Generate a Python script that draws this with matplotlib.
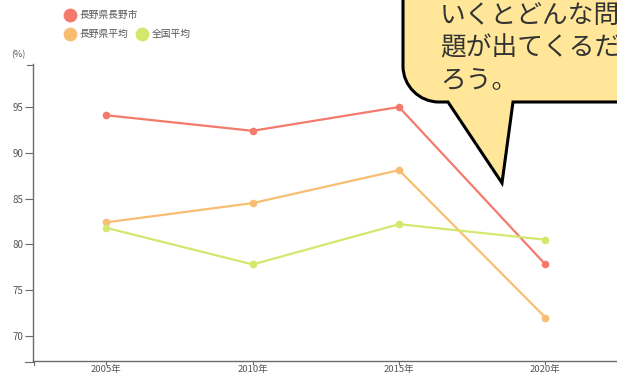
import matplotlib
matplotlib.use("Agg")
import matplotlib.pyplot as plt
from matplotlib.path import Path
from matplotlib.patches import PathPatch

plt.rcParams['font.family'] = ['Noto Sans CJK JP', 'DejaVu Sans']

years = ["2005年", "2010年", "2015年", "2020年"]
nagano_city = [94.1, 92.4, 95.0, 77.8]
nagano_pref = [82.4, 84.5, 88.1, 72.0]
national = [81.8, 77.8, 82.2, 80.5]
series_names = ["長野県長野市", "長野県平均", "全国平均"]
yticks = [70, 75, 80, 85, 90, 95]

colors = ["#F47B6B", "#F9BD72", "#D4E86E"]
axis_color = "#6b6b6b"
label_color = "#555555"

W, H = 617, 375
fig = plt.figure(figsize=(W / 100, H / 100), dpi=100)

# main plot area in pixel terms
x0, x1, ytop, ybot = 33, 617, 64, 361
ax = fig.add_axes([x0 / W, (H - ybot) / H, (x1 - x0) / W, (ybot - ytop) / H])
xs = list(range(len(years)))
for vals, c in zip([nagano_city, nagano_pref, national], colors):
    ax.plot(xs, vals, color=c, lw=1.6, marker="o", ms=4.5, mec=c, mfc=c, zorder=3)

ax.set_xlim(-0.5, -0.5 + (x1 - x0) / 146.4)
ax.set_ylim(67.25, 99.7)
ax.set_xticks(xs)
ax.set_xticklabels(years)
ax.set_yticks(yticks)
for s in ["top", "right"]:
    ax.spines[s].set_visible(False)
for s in ["left", "bottom"]:
    ax.spines[s].set_color(axis_color)
    ax.spines[s].set_linewidth(1.0)
ax.tick_params(axis="y", colors=axis_color, labelcolor=label_color, labelsize=7,
               length=5.5, width=0.8, pad=1.5)
ax.tick_params(axis="x", colors=axis_color, labelcolor=label_color, labelsize=6.8,
               length=3, width=0.8, pad=0)

# overlay in pixel coordinates
ov = fig.add_axes([0, 0, 1, 1], zorder=10)
ov.set_xlim(0, W)
ov.set_ylim(H, 0)
ov.axis("off")
ov.patch.set_alpha(0)

# outer ticks at the ends of both axis domains
ov.plot([27, x0], [ytop + 0.5, ytop + 0.5], color=axis_color, lw=0.8)
ov.plot([25, x0], [ybot + 0.5, ybot + 0.5], color=axis_color, lw=0.8)
ov.plot([x0 + 0.5, x0 + 0.5], [ybot, ybot + 4], color=axis_color, lw=0.8)

ov.text(18, 55, "(%)", fontsize=6.5, color=label_color, ha="center", va="center")

# legend
leg = [(70, 15, 0), (70, 34, 1), (142, 34, 2)]
for lx, ly, i in leg:
    ov.scatter([lx], [ly], s=80, color=colors[i], zorder=3)
    ov.text(lx + 10, ly, series_names[i], fontsize=7, color=label_color, va="center", ha="left")

# speech bubble
r = 36
k = 0.5523 * r
left, bottom = 403, 102
verts = [
    (left, -20),
    (left, bottom - r),
    (left, bottom - r + k), (left + r - k, bottom), (left + r, bottom),
    (448, bottom),
    (502, 183),
    (513, bottom),
    (640, bottom),
    (640, -20),
    (left, -20),
]
codes = [Path.MOVETO, Path.LINETO, Path.CURVE4, Path.CURVE4, Path.CURVE4,
         Path.LINETO, Path.LINETO, Path.LINETO, Path.LINETO, Path.LINETO, Path.CLOSEPOLY]
ov.add_patch(PathPatch(Path(verts, codes), facecolor="#FFE699", edgecolor="black", lw=2.2,
                       joinstyle="miter", zorder=5))

lines = ["いくとどんな問", "題が出てくるだ", "ろう。"]
for t, cy in zip(lines, [16, 48, 81]):
    ov.text(440, cy, t, fontsize=18.5, color="#333333", ha="left", va="center", zorder=6)

fig.savefig("out.png", dpi=100)
